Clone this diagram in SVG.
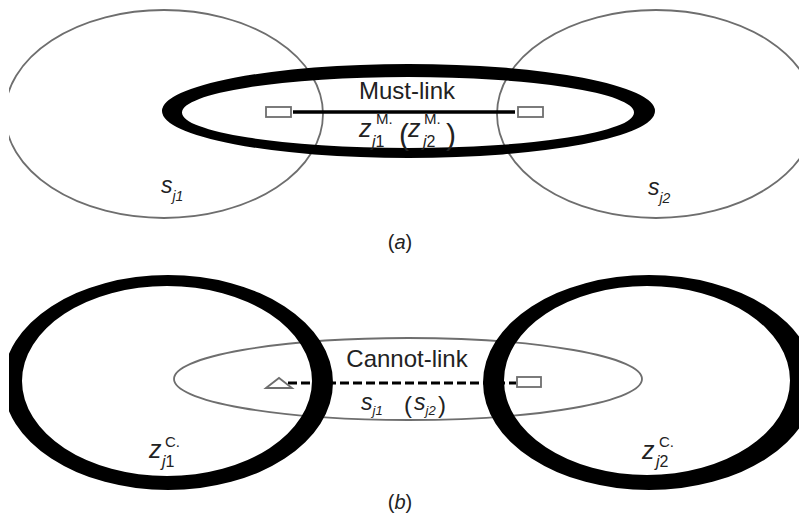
<svg xmlns="http://www.w3.org/2000/svg" width="799" height="519" viewBox="0 0 799 519">
<style>
.thin{fill:none;stroke:#6e6e6e;stroke-width:1.8}
.ring{fill:#000;fill-rule:evenodd;stroke:none}
.box{fill:#fff;stroke:#6e6e6e;stroke-width:1.8}
.t{font-family:"Liberation Sans",Arial,sans-serif;fill:#222}
</style>
<defs>
<clipPath id="clipL"><rect x="9" y="0" width="790" height="519"/></clipPath>
</defs>
<rect width="799" height="519" fill="#fff"/>

<!-- (a) -->
<g id="s_j1_a"><ellipse class="thin" cx="164" cy="114" rx="159" ry="104" clip-path="url(#clipL)"/>
<text class="t" x="161" y="193" font-size="23" font-style="italic">s<tspan font-size="14" dy="8">j1</tspan></text></g>
<g id="s_j2_a"><ellipse class="thin" cx="656" cy="114" rx="159" ry="104"/>
<text class="t" x="648" y="195" font-size="23" font-style="italic">s<tspan font-size="14" dy="8">j2</tspan></text></g>
<g id="z_M"><path class="ring" d="M162,111 A246.5,47 0 1 0 655,111 A246.5,47 0 1 0 162,111 Z M182,112.5 A226,35.5 0 1 0 634,112.5 A226,35.5 0 1 0 182,112.5 Z"/></g>
<g id="connectors_a"><line x1="293" y1="112" x2="515" y2="112" stroke="#000" stroke-width="3.5"/></g>
<g id="ends_a"><rect class="box" x="266" y="107" width="25" height="10"/><rect class="box" x="518" y="107" width="25" height="10"/></g>
<g id="label_a">
<text class="t" x="407" y="99" font-size="24" text-anchor="middle">Must-link</text>
<text class="t" x="359" y="137" font-size="25" font-style="italic">z</text>
<text class="t" x="376" y="124" font-size="15">M.</text>
<text class="t" x="372" y="147" font-size="16"><tspan font-style="italic">j</tspan>1</text>
<text class="t" x="399" y="145" font-size="30">(</text>
<text class="t" x="408" y="137" font-size="25" font-style="italic">z</text>
<text class="t" x="424" y="124" font-size="15">M.</text>
<text class="t" x="423" y="147" font-size="16"><tspan font-style="italic">j</tspan>2</text>
<text class="t" x="446" y="145" font-size="30">)</text>
</g>
<text class="t" x="400" y="249" font-size="20" text-anchor="middle">(<tspan font-style="italic">a</tspan>)</text>

<!-- (b) -->
<g id="s_link_b"><ellipse class="thin" cx="408" cy="379" rx="234" ry="41"/></g>
<g id="z_C_j1"><path class="ring" clip-path="url(#clipL)" d="M3,382.5 A165,107.5 0 1 0 333,382.5 A165,107.5 0 1 0 3,382.5 Z M22,381 A145,95 0 1 0 312,381 A145,95 0 1 0 22,381 Z"/>
<text class="t" x="149" y="458" font-size="25" font-style="italic">z</text>
<text class="t" x="165" y="447" font-size="15">C.</text>
<text class="t" x="162" y="467" font-size="16"><tspan font-style="italic">j</tspan>1</text></g>
<g id="z_C_j2"><path class="ring" d="M483,382.5 A166,107.5 0 1 0 815,382.5 A166,107.5 0 1 0 483,382.5 Z M504,380.5 A143,94.5 0 1 0 790,380.5 A143,94.5 0 1 0 504,380.5 Z"/>
<text class="t" x="642" y="459" font-size="25" font-style="italic">z</text>
<text class="t" x="659" y="447" font-size="15">C.</text>
<text class="t" x="656" y="467" font-size="16"><tspan font-style="italic">j</tspan>2</text></g>
<g id="connectors_b"><line x1="288" y1="383" x2="516" y2="383" stroke="#000" stroke-width="3" stroke-dasharray="9,4"/></g>
<g id="ends_b"><polygon class="box" points="266,388 279,378 292,388"/><rect class="box" x="517" y="377" width="24" height="10"/></g>
<g id="label_b">
<text class="t" x="407" y="367" font-size="24" text-anchor="middle">Cannot-link</text>
<text class="t" x="361" y="410" font-size="23" font-style="italic">s<tspan font-size="13" dy="5">j1</tspan></text>
<text class="t" x="404" y="413" font-size="24">(</text>
<text class="t" x="414" y="410" font-size="23" font-style="italic">s<tspan font-size="13" dy="5">j2</tspan></text>
<text class="t" x="438" y="413" font-size="24">)</text>
</g>
<text class="t" x="400" y="509" font-size="20" text-anchor="middle">(<tspan font-style="italic">b</tspan>)</text>
</svg>
